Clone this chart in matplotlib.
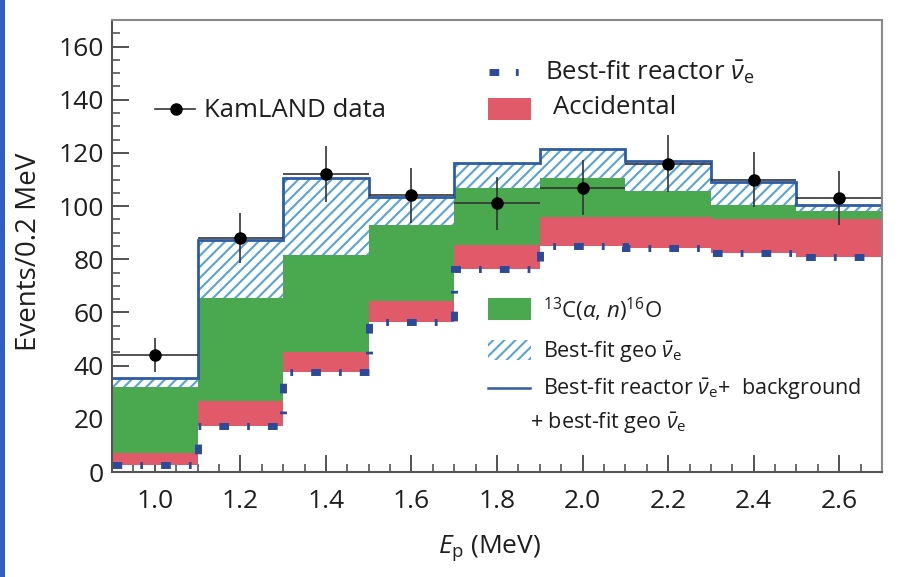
import numpy as np
import matplotlib
matplotlib.use("Agg")
import matplotlib.pyplot as plt
from matplotlib.lines import Line2D
from matplotlib.patches import Rectangle

# Energy bins (MeV)
edges = [0.9, 1.1, 1.3, 1.5, 1.7, 1.9, 2.1, 2.3, 2.5, 2.7]
centers = [1.0, 1.2, 1.4, 1.6, 1.8, 2.0, 2.2, 2.4, 2.6]

# KamLAND data (events / 0.2 MeV) with statistical errors
data = [44, 88, 112, 104, 101, 107, 116, 110, 103]
data_err = [6.5, 9.4, 10.5, 10.2, 10.0, 10.3, 10.7, 10.3, 10.1]

# Stacked components, cumulative tops
reactor = [2.6, 17.3, 37.5, 56.5, 76.4, 85.0, 84.3, 82.4, 81.0]
react_acc = [7.2, 26.7, 45.0, 64.4, 85.5, 96.0, 96.0, 95.0, 95.0]
react_acc_c13 = [32.0, 65.5, 81.7, 93.0, 107.0, 110.6, 105.5, 100.5, 98.0]
total = [35.2, 87.3, 110.6, 103.5, 116.3, 121.6, 117.0, 109.0, 100.5]

GREEN = "#4aa84e"
RED = "#e05a6a"
DASHBLUE = "#2c4a98"
HATCH = "#58a4d6"
LINEBLUE = "#2d5ca2"
TXT = "#1e1e1e"

plt.rcParams["font.family"] = ["Open Sans", "DejaVu Sans"]
plt.rcParams["mathtext.fontset"] = "custom"
plt.rcParams["mathtext.rm"] = "Open Sans"
plt.rcParams["mathtext.it"] = "Open Sans:italic"
plt.rcParams["hatch.linewidth"] = 1.5
plt.rcParams["lines.scale_dashes"] = False

W, H = 899, 577
fig = plt.figure(figsize=(W / 100, H / 100), dpi=100)
fig.patch.set_facecolor("white")
# slide-edge strip on the left
fig.patches.append(Rectangle((0, 0), 5 / W, 1, transform=fig.transFigure,
                             facecolor="#2f5fc0", edgecolor="none", zorder=0))

ax = fig.add_axes([112 / W, 105 / H, 770 / W, 452 / H])

# accidental band
ax.stairs(react_acc, edges, baseline=reactor, fill=True, color=RED, lw=0, zorder=2)
# 13C(a,n) band
ax.stairs(react_acc_c13, edges, baseline=react_acc, fill=True, color=GREEN, lw=0, zorder=2)
# geo neutrino band (hatched)
ax.stairs(total, edges, baseline=react_acc_c13, fill=True, facecolor="white",
          edgecolor=HATCH, hatch="///", lw=0, zorder=2)
# total outline
ax.stairs(total, edges, baseline=None, color=LINEBLUE, lw=2.0, zorder=4)
# reactor spectrum, dashed
dash = (0, (7.0, 13.0, 2.0, 13.0))
ax.stairs(reactor, edges, baseline=None, color=DASHBLUE, lw=5.0,
          linestyle=dash, zorder=5)

# data
ax.errorbar(centers, data, yerr=data_err, xerr=0.1, fmt="o", color="black",
            ecolor="#333333", elinewidth=1.2, markersize=8, capsize=0, zorder=6)

ax.set_xlim(0.9, 2.7)
ax.set_ylim(0, 170)
xt = np.arange(1.0, 2.61, 0.2)
ax.set_xticks(xt)
ax.set_xticks(np.arange(0.9, 2.701, 0.05), minor=True)
ax.set_yticks(np.arange(0, 161, 20))
ax.set_yticks(np.arange(0, 170, 5), minor=True)
ax.set_xticklabels([f"{v:.1f}" for v in xt])
ax.tick_params(which="both", direction="in", color="#444444", labelsize=19,
               top=False, right=False, labelcolor=TXT)
ax.tick_params(axis="x", which="major", pad=12)
ax.tick_params(axis="y", which="major", pad=6)
ax.tick_params(which="major", length=12, width=1.3)
ax.tick_params(which="minor", length=6, width=1.1)
for side in ["top", "right"]:
    ax.spines[side].set_color("#8a8a8a")
for side in ["left", "bottom"]:
    ax.spines[side].set_color("#555555")
for s in ax.spines.values():
    s.set_linewidth(1.5)
    s.set_zorder(7)

fig.text(29 / W, 1 - 252 / H, "Events/0.2 MeV", fontsize=20, rotation=90,
         ha="center", va="center", color=TXT)
fig.text(490 / W, 1 - 548 / H, r"$E_{\rm p}$ (MeV)", fontsize=19,
         ha="center", va="center", color=TXT)

# legend entries
def fy(py):
    return 1 - py / H

fig.add_artist(Line2D([155 / W, 195 / W], [fy(109)] * 2, color="#333333", lw=1.2))
fig.add_artist(Line2D([176 / W], [fy(109)], marker="o", color="black", markersize=8))
fig.text(204 / W, fy(111), "KamLAND data", fontsize=18.5, va="center", color=TXT)

fig.add_artist(Line2D([489 / W, 526 / W], [fy(72)] * 2, color=DASHBLUE, lw=5,
                      linestyle=(0, (7.0, 12.0, 2.0, 50))))
fig.text(545 / W, fy(72), r"Best-fit reactor $\bar{\nu}_{\rm e}$", fontsize=18.5,
         va="center", color=TXT)
fig.patches.append(Rectangle((488 / W, fy(120)), 43 / W, 22 / H,
                             transform=fig.transFigure, facecolor=RED, edgecolor="none"))
fig.text(553 / W, fy(108), "Accidental", fontsize=18.5, va="center", color=TXT)

fig.patches.append(Rectangle((488 / W, fy(320)), 43 / W, 22 / H,
                             transform=fig.transFigure, facecolor=GREEN, edgecolor="none"))
fig.text(543 / W, fy(310), r"$^{13}$C($\alpha$, $n$)$^{16}$O", fontsize=16,
         va="center", color=TXT)
fig.patches.append(Rectangle((488 / W, fy(360)), 43 / W, 20 / H,
                             transform=fig.transFigure, facecolor="white", edgecolor=HATCH,
                             hatch="///", lw=0))
fig.text(543 / W, fy(352), r"Best-fit geo $\bar{\nu}_{\rm e}$", fontsize=15.5,
         va="center", color=TXT)
fig.add_artist(Line2D([488 / W, 530 / W], [fy(388)] * 2, color=LINEBLUE, lw=1.8))
fig.text(543 / W, fy(389), r"Best-fit reactor $\bar{\nu}_{\rm e}$+  background",
         fontsize=15.5, va="center", color=TXT)
fig.text(530 / W, fy(423), r"+ best-fit geo $\bar{\nu}_{\rm e}$", fontsize=15.5,
         va="center", color=TXT)

fig.savefig("out.png", dpi=100)
